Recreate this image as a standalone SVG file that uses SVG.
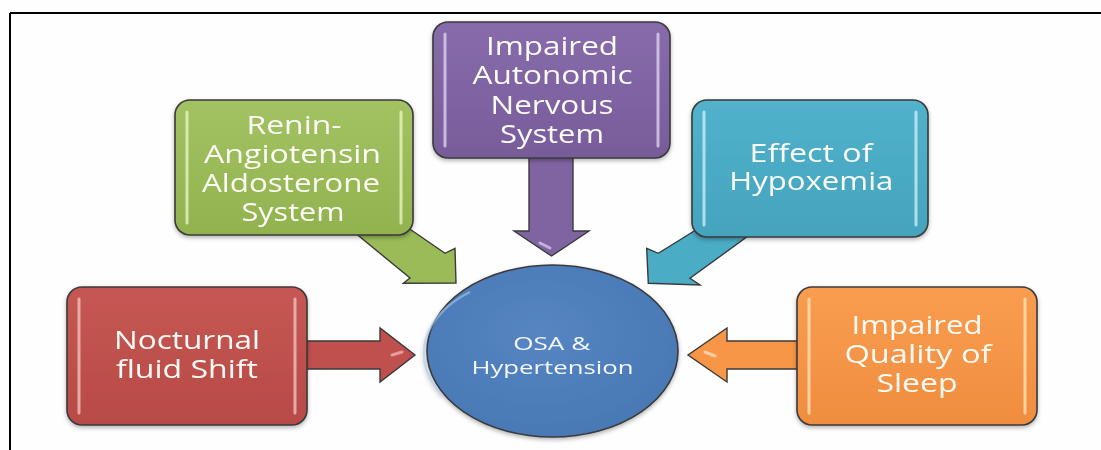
<svg xmlns="http://www.w3.org/2000/svg" width="1101" height="450" viewBox="0 0 1101 450">
<defs>
<style>
.box{stroke:#3a3a3a;stroke-width:1.6}
.arr{stroke:#3a3a3a;stroke-width:1.4;stroke-linejoin:miter}
.t{font-family:"Open Sans","Noto Sans","DejaVu Sans",sans-serif;fill:#fbfbf6;text-anchor:middle;font-size:25.5px}
.tc{font-family:"Open Sans","Noto Sans","DejaVu Sans",sans-serif;fill:#f4f6fa;text-anchor:middle;font-size:18px}
.hl{fill:none;stroke-width:3;stroke-linecap:round;opacity:0.75}
</style>
<filter id="sh" x="-10%" y="-10%" width="120%" height="125%">
<feDropShadow dx="0" dy="2" stdDeviation="2" flood-color="#000" flood-opacity="0.3"/>
</filter>
<linearGradient id="gG" x1="0" y1="0" x2="0" y2="1"><stop offset="0" stop-color="#a3c263"/><stop offset="1" stop-color="#92b24f"/></linearGradient>
<linearGradient id="gP" x1="0" y1="0" x2="0" y2="1"><stop offset="0" stop-color="#876bab"/><stop offset="1" stop-color="#785c9a"/></linearGradient>
<linearGradient id="gB" x1="0" y1="0" x2="0" y2="1"><stop offset="0" stop-color="#52b2cc"/><stop offset="1" stop-color="#44a3bd"/></linearGradient>
<linearGradient id="gR" x1="0" y1="0" x2="0" y2="1"><stop offset="0" stop-color="#c65753"/><stop offset="1" stop-color="#b84a47"/></linearGradient>
<linearGradient id="gO" x1="0" y1="0" x2="0" y2="1"><stop offset="0" stop-color="#f99d50"/><stop offset="1" stop-color="#f08d3f"/></linearGradient>
<radialGradient id="gC" cx="0.45" cy="0.4" r="0.7"><stop offset="0" stop-color="#5585c2"/><stop offset="1" stop-color="#4777b3"/></radialGradient>
</defs>
<rect x="0" y="0" width="1101" height="450" fill="#fefefe"/>
<g id="frame" stroke="#000" stroke-width="2" fill="none">
<line x1="10" y1="13" x2="1101" y2="13"/>
<line x1="10" y1="13" x2="10" y2="450"/>
</g>

<g id="connectors">
<polygon class="arr" fill="#c0504d" points="300,341 380,341 380,328 415,355 380,382 380,369 300,369"/>
<polygon class="arr" fill="#f79646" points="805,341 727,341 727,328 688,355 727,382 727,369 805,369"/>
<polygon class="arr" fill="#8064a2" points="529,150 573,150 573,231 589,231 551.5,256 514,231 529,231"/>
<polygon class="arr" fill="#9bbb59" points="385,212 445,253.3 455,248.3 456,283 403.3,283.3 410,278 340,220.5"/>
<polygon class="arr" fill="#4bacc6" points="720,215 658.3,253.3 646.7,248.3 648.3,283.3 700,285 690,278.3 770,220"/>
<g class="hl" stroke="#ffffff" opacity="0.5">
<line x1="392" y1="355" x2="402" y2="352" stroke="#f3b6b4"/>
<line x1="705" y1="352" x2="715" y2="356" stroke="#fde0c4"/>
<line x1="540" y1="243" x2="550" y2="248" stroke="#d8c8ec"/>
</g>
</g>

<g id="node-raas" filter="url(#sh)">
<rect class="box" x="175" y="100" width="238" height="135" rx="15" fill="url(#gG)"/>
<line class="hl" x1="187" y1="112" x2="187" y2="223" stroke="#eef7c8"/>
<line class="hl" x1="401" y1="112" x2="401" y2="223" stroke="#eef7c8"/>
<text class="t" x="294" y="133.5" textLength="95" lengthAdjust="spacingAndGlyphs">Renin-</text>
<text class="t" x="292.5" y="162.5" textLength="177" lengthAdjust="spacingAndGlyphs">Angiotensin</text>
<text class="t" x="291" y="191.5" textLength="178" lengthAdjust="spacingAndGlyphs">Aldosterone</text>
<text class="t" x="293" y="220.5" textLength="103" lengthAdjust="spacingAndGlyphs">System</text>
</g>

<g id="node-ans" filter="url(#sh)">
<rect class="box" x="433" y="22" width="237" height="136" rx="15" fill="url(#gP)"/>
<line class="hl" x1="445" y1="34" x2="445" y2="146" stroke="#e4d8f4"/>
<line class="hl" x1="658" y1="34" x2="658" y2="146" stroke="#e4d8f4"/>
<text class="t" x="552" y="55" textLength="132" lengthAdjust="spacingAndGlyphs">Impaired</text>
<text class="t" x="552.5" y="84.3" textLength="160" lengthAdjust="spacingAndGlyphs">Autonomic</text>
<text class="t" x="552" y="113.5" textLength="123" lengthAdjust="spacingAndGlyphs">Nervous</text>
<text class="t" x="552" y="143" textLength="104" lengthAdjust="spacingAndGlyphs">System</text>
</g>

<g id="node-hypoxemia" filter="url(#sh)">
<rect class="box" x="692" y="100" width="236" height="137" rx="15" fill="url(#gB)"/>
<line class="hl" x1="704" y1="112" x2="704" y2="225" stroke="#d2f1fa"/>
<line class="hl" x1="916" y1="112" x2="916" y2="225" stroke="#d2f1fa"/>
<text class="t" x="811" y="161.7" textLength="123" lengthAdjust="spacingAndGlyphs">Effect of</text>
<text class="t" x="811.3" y="190" textLength="164" lengthAdjust="spacingAndGlyphs">Hypoxemia</text>
</g>

<g id="node-fluid" filter="url(#sh)">
<rect class="box" x="67" y="287" width="240" height="138" rx="15" fill="url(#gR)"/>
<line class="hl" x1="79" y1="299" x2="79" y2="413" stroke="#f6c8c6"/>
<line class="hl" x1="295" y1="299" x2="295" y2="413" stroke="#f6c8c6"/>
<text class="t" x="187" y="349.3" textLength="146" lengthAdjust="spacingAndGlyphs">Nocturnal</text>
<text class="t" x="187" y="378.3" textLength="142" lengthAdjust="spacingAndGlyphs">fluid Shift</text>
</g>

<g id="node-sleep" filter="url(#sh)">
<rect class="box" x="797" y="287" width="240" height="138" rx="15" fill="url(#gO)"/>
<line class="hl" x1="809" y1="299" x2="809" y2="413" stroke="#fde8c0"/>
<line class="hl" x1="1025" y1="299" x2="1025" y2="413" stroke="#fde8c0"/>
<text class="t" x="917" y="334" textLength="131" lengthAdjust="spacingAndGlyphs">Impaired</text>
<text class="t" x="918" y="363.3" textLength="147" lengthAdjust="spacingAndGlyphs">Quality of</text>
<text class="t" x="917" y="391.7" textLength="81" lengthAdjust="spacingAndGlyphs">Sleep</text>
</g>

<g id="node-osa" filter="url(#sh)">
<ellipse class="box" cx="552.5" cy="351" rx="125.5" ry="86" fill="url(#gC)"/>
<path d="M442,395 A112,76 0 0 1 470,292" fill="none" stroke="#a9c6ea" stroke-width="2.5" opacity="0.6"/>
<text class="tc" x="551.7" y="350" textLength="77" lengthAdjust="spacingAndGlyphs">OSA &amp;</text>
<text class="tc" x="552.5" y="374" textLength="162" lengthAdjust="spacingAndGlyphs">Hypertension</text>
</g>
</svg>
